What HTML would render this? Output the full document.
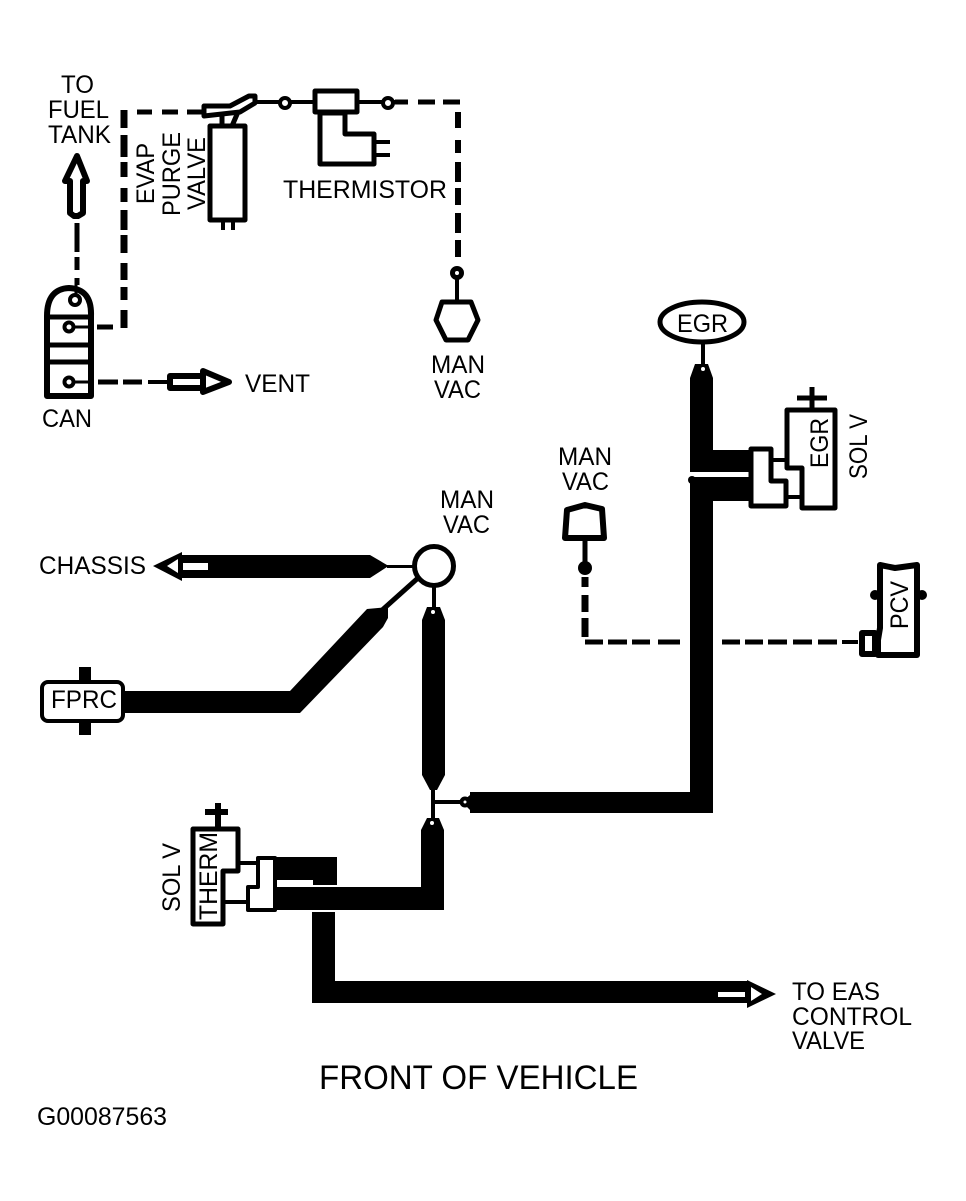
<!DOCTYPE html>
<html><head><meta charset="utf-8"><style>
html,body{margin:0;padding:0;background:#fff;width:966px;height:1201px;overflow:hidden}
svg{display:block}
text{font-family:"Liberation Sans",sans-serif;font-size:25px;fill:#000}
.o{fill:#fff;stroke:#000;stroke-width:5;stroke-linejoin:round}
.l{fill:none;stroke:#000;stroke-width:3}
.d{fill:none;stroke:#000;stroke-width:5}
.v{fill:none;stroke:#000;stroke-width:7}
.k{fill:#000}
</style></head><body>
<svg width="966" height="1201" viewBox="0 0 966 1201" xmlns="http://www.w3.org/2000/svg">
<!-- Dashed lines -->
<path class="d" d="M137 112H152M162 112H178M187 112H203"/>
<path class="v" d="M124 110V128M124 135V157M124 162V177M124 188V202M124 210V230M124 235V253M124 263V280M124 287V300M124 310V328"/>
<path class="d" d="M97 327H113"/>
<path class="d" d="M77 223V252M77 257V270M77 278V285"/>
<path class="d" d="M98 382H118M123 382H142"/>
<path class="l" d="M148 382H168" style="stroke-width:4"/>
<path class="d" d="M395 102H408M418 102H435M443 102H460"/>
<path class="v" d="M458 112V128M458 140V153M458 162V182M458 188V205M458 213V233M458 240V257" style="stroke-width:6"/>
<path class="v" d="M585 577V587M585 595V612M585 618V637"/>
<path class="d" d="M585 642H603M608 642H627M632 642H650M658 642H680"/>
<path class="d" d="M722 642H740M745 642H763M768 642H787M793 642H812M818 642H837"/>
<path class="l" d="M842 642H858" style="stroke-width:4"/>
<!-- Fuel arrow -->
<path class="o" d="M77 156L87 181H83V213L78 216H74L70 213V181H65Z" style="stroke-width:6"/>
<!-- Canister -->
<path class="o" d="M47 396V316Q47 289 69 288Q92 289 91 316V396Z" style="stroke-width:6"/>
<path class="l" d="M47 317H91M47 345H91M47 362H91" style="stroke-width:5"/>
<circle class="o" cx="75" cy="300" r="5" style="stroke-width:4"/>
<path class="l" d="M76 282V295"/>
<circle class="o" cx="69" cy="327" r="4.5" style="stroke-width:4"/>
<path class="l" d="M74 327H91"/>
<circle class="o" cx="69" cy="382" r="4.5" style="stroke-width:4"/>
<path class="l" d="M74 382H91"/>
<!-- Vent arrow -->
<path class="o" d="M170 376H203V371L229 382L203 392V388H170Z" style="stroke-width:6"/>
<path class="l" d="M203 372V392" style="stroke-width:6"/>
<!-- Purge valve -->
<path class="o" d="M210 126H245V220H210Z"/>
<path class="l" d="M223 220V230M233 220V230" style="stroke-width:4"/>
<path class="l" d="M222 116V126M238 112L232 126" style="stroke-width:5"/>
<path class="o" d="M204 106H230L249 96H255V103L240 112L204 116Z"/>
<!-- Upper right -->
<path class="l" d="M255 102H314" style="stroke-width:4"/>
<circle class="o" cx="285" cy="103" r="5" style="stroke-width:4"/>
<path class="o" d="M315 91H357V112H315Z"/>
<path class="o" d="M320 113V164H374V134H345V113Z"/>
<path class="l" d="M374 142H390M374 155H390" style="stroke-width:4"/>
<path class="l" d="M358 102H395" style="stroke-width:4"/>
<circle class="o" cx="388" cy="103" r="5" style="stroke-width:4"/>
<circle class="o" cx="457" cy="273" r="4.5" style="stroke-width:5"/>
<path class="l" d="M457 278V300" style="stroke-width:4"/>
<path class="o" d="M442 302H471L478 320L468 340H446L436 320Z" style="stroke-width:5"/>
<!-- EGR -->
<ellipse class="o" cx="702" cy="322" rx="42" ry="20" style="stroke-width:5"/>
<path class="l" d="M703 342V366" style="stroke-width:4"/>
<path class="k" d="M690 378L695 364H708L713 378V450H750V472H690Z"/>
<path class="k" d="M690 477H750V501H713V813H470V792H690Z"/>
<circle class="k" cx="692" cy="480" r="4"/>
<circle cx="703" cy="369" r="2" fill="#fff"/>
<path class="k" d="M462 802L470 795V810Z"/>
<circle class="o" cx="465" cy="802" r="3.5" style="stroke-width:4"/>
<path class="l" d="M433 802H462" style="stroke-width:4"/>
<!-- EGR solenoid -->
<path class="o" d="M787 410H835V508H802V468H787Z"/>
<path class="l" d="M772 460H787M787 497H802" style="stroke-width:4"/>
<path class="o" d="M751 449H771V481H786V506H751Z"/>
<path class="l" d="M812 387V408M797 398H827" style="stroke-width:5"/>
<!-- Man vac mid -->
<path class="o" d="M567 510L585 505L602 509L604 538H565Z" style="stroke-width:6"/>
<path class="l" d="M585 541V567" style="stroke-width:5"/>
<circle class="k" cx="585" cy="568" r="7"/>
<!-- PCV -->
<path class="o" d="M880 565L895 568L917 565V655H878V640L880 628V565Z" style="stroke-width:6"/>
<circle class="k" cx="875" cy="595" r="5"/>
<circle class="k" cx="922" cy="595" r="5"/>
<path class="o" d="M862 633H875V654H862Z" style="stroke-width:6"/>
<!-- Chassis -->
<path class="k" d="M153 566L182 552V555H370L387 565V567L370 578H182V581Z"/>
<path class="k" d="M387 565H413V568H387Z"/>
<path d="M167 566L178 559V573ZM183 563H208V570H183Z" fill="#fff"/>
<path class="l" d="M380 612L418 578" style="stroke-width:5"/>
<circle class="o" cx="434" cy="566" r="19.5" style="stroke-width:5"/>
<!-- FPRC line -->
<path class="k" d="M125 691H290L367 609L388 607V618L383 627L300 713H125Z"/>
<rect class="o" x="42" y="682" width="81" height="39" rx="6" style="stroke-width:4"/>
<path class="k" d="M79 667H91V680H79ZM79 723H91V735H79Z"/>
<!-- Vertical -->
<path class="l" d="M434 587V608" style="stroke-width:4"/>
<path class="k" d="M422 620L427 607H440L445 620V775L437 790H430L422 775Z"/>
<circle cx="433" cy="612" r="2" fill="#fff"/>
<path class="l" d="M433 785V820" style="stroke-width:4"/>
<path class="k" d="M421 830L427 818H439L444 830V910H275V887H421Z"/>
<circle cx="432" cy="823" r="2" fill="#fff"/>
<!-- Therm stub and lines -->
<path class="k" d="M275 857H337V885H313V880H275Z"/>
<path class="k" d="M312 912H335V981H715V1003H312Z"/>
<!-- EAS arrow -->
<path class="k" d="M690 981H747V980L776 994L747 1008V1003H690Z"/>
<path d="M718 992H745V997H718ZM751 987L762 994L751 1001Z" fill="#fff"/>
<!-- THERM solenoid -->
<path class="o" d="M193 829H238V871H223V924H193Z"/>
<path class="l" d="M240 863H257M225 902H247" style="stroke-width:4"/>
<path class="o" d="M258 858H275V910H248V887H258Z" style="stroke-width:4"/>
<path class="l" d="M218 803V827M205 812H228" style="stroke-width:6"/>
<!-- Labels -->
<text x="61" y="93" textLength="33" lengthAdjust="spacingAndGlyphs">TO</text>
<text x="48" y="118" textLength="61" lengthAdjust="spacingAndGlyphs">FUEL</text>
<text x="48" y="143" textLength="63" lengthAdjust="spacingAndGlyphs">TANK</text>
<text transform="translate(154,204) rotate(-90)" textLength="61" lengthAdjust="spacingAndGlyphs">EVAP</text>
<text transform="translate(180,216) rotate(-90)" textLength="84" lengthAdjust="spacingAndGlyphs">PURGE</text>
<text transform="translate(205,210) rotate(-90)" textLength="73" lengthAdjust="spacingAndGlyphs">VALVE</text>
<text x="283" y="198" textLength="164" lengthAdjust="spacingAndGlyphs">THERMISTOR</text>
<text x="245" y="392" textLength="65" lengthAdjust="spacingAndGlyphs">VENT</text>
<text x="42" y="427" textLength="50" lengthAdjust="spacingAndGlyphs">CAN</text>
<text x="431" y="373" textLength="54" lengthAdjust="spacingAndGlyphs">MAN</text>
<text x="434" y="398" textLength="47" lengthAdjust="spacingAndGlyphs">VAC</text>
<text x="677" y="332" textLength="51" lengthAdjust="spacingAndGlyphs">EGR</text>
<text transform="translate(828,468) rotate(-90)" textLength="50" lengthAdjust="spacingAndGlyphs">EGR</text>
<text transform="translate(867,479) rotate(-90)" textLength="65" lengthAdjust="spacingAndGlyphs">SOL V</text>
<text x="558" y="465" textLength="54" lengthAdjust="spacingAndGlyphs">MAN</text>
<text x="562" y="490" textLength="47" lengthAdjust="spacingAndGlyphs">VAC</text>
<text x="440" y="508" textLength="54" lengthAdjust="spacingAndGlyphs">MAN</text>
<text x="443" y="533" textLength="47" lengthAdjust="spacingAndGlyphs">VAC</text>
<text x="39" y="574" textLength="107" lengthAdjust="spacingAndGlyphs">CHASSIS</text>
<text x="51" y="708" textLength="66" lengthAdjust="spacingAndGlyphs">FPRC</text>
<text transform="translate(908,629) rotate(-90)" textLength="48" lengthAdjust="spacingAndGlyphs">PCV</text>
<text transform="translate(217,920) rotate(-90)" textLength="88" lengthAdjust="spacingAndGlyphs">THERM</text>
<text transform="translate(180,912) rotate(-90)" textLength="69" lengthAdjust="spacingAndGlyphs">SOL V</text>
<text x="792" y="1000" textLength="88" lengthAdjust="spacingAndGlyphs">TO EAS</text>
<text x="792" y="1025" textLength="120" lengthAdjust="spacingAndGlyphs">CONTROL</text>
<text x="792" y="1049" textLength="73" lengthAdjust="spacingAndGlyphs">VALVE</text>
<text x="319" y="1089" textLength="319" lengthAdjust="spacingAndGlyphs" style="font-size:34px">FRONT OF VEHICLE</text>
<text x="37" y="1125" textLength="130" lengthAdjust="spacingAndGlyphs">G00087563</text>
</svg>
</body></html>
